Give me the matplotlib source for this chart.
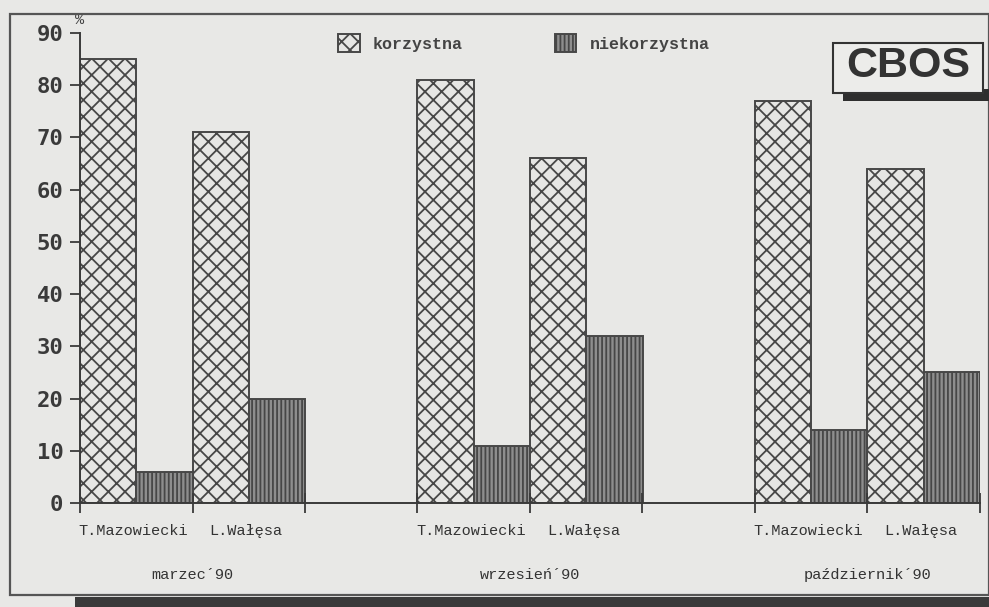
import matplotlib
matplotlib.use("Agg")
import matplotlib.pyplot as plt
from matplotlib.patches import Rectangle
import numpy as np

# ---- data ----
months = ["marzec\u00b490", "wrzesie\u0144\u00b490", "pa\u017adziernik\u00b490"]
politicians = ["T.Mazowiecki", "L.Wa\u0142\u0119sa"]
series = ["korzystna", "niekorzystna"]
korzystna = [85, 71, 81, 66, 77, 64]      # Mazowiecki, Wałęsa per month
niekorzystna = [6, 20, 11, 32, 14, 25]
yticks = [0, 10, 20, 30, 40, 50, 60, 70, 80, 90]

BG = "#e8e8e6"
EDGE = "#474747"
plt.rcParams["hatch.linewidth"] = 1.3
plt.rcParams["hatch.color"] = EDGE

fig = plt.figure(figsize=(9.89, 6.07), dpi=100, facecolor=BG)

# outer frame and dark band below
fig.patches.append(Rectangle((10 / 989, 1 - 595 / 607), (989 - 10) / 989, (595 - 14) / 607,
                             transform=fig.transFigure, facecolor="none",
                             edgecolor="#555555", lw=1.6, zorder=0))
fig.patches.append(Rectangle((75 / 989, 0), 1 - 75 / 989, 10 / 607,
                             transform=fig.transFigure, facecolor="#3a3a3a",
                             edgecolor="none", zorder=0))

ax = fig.add_axes([80 / 989, 1 - 503 / 607, 900 / 989, (503 - 33) / 607])
ax.set_facecolor("none")

slots = []
for m in range(len(months)):
    for p in range(len(politicians)):
        slots.append(m * 3 + p)
slots = np.array(slots, dtype=float)

b1 = ax.bar(slots + 0.25, korzystna, width=0.5, facecolor="#e6e6e4", edgecolor=EDGE,
            hatch="xx", lw=1.4, label=series[0])
b2 = ax.bar(slots + 0.75, niekorzystna, width=0.5, facecolor="#8e8e8e", edgecolor=EDGE,
            hatch="||||", lw=1.4, label=series[1])

ax.set_xlim(0, 8)
ax.set_ylim(0, 90)
for s in ["top", "right"]:
    ax.spines[s].set_visible(False)
for s in ["left", "bottom"]:
    ax.spines[s].set_color("#3a3a3a")
    ax.spines[s].set_linewidth(1.4)

ax.set_yticks(yticks)
ax.set_yticklabels([str(v) for v in yticks], fontfamily="DejaVu Sans Mono",
                   fontweight="bold", fontsize=16, color="#3a3a3a")
ax.tick_params(axis="y", direction="out", length=7, width=1.3, color="#3a3a3a", pad=5)
ax.set_xticks(np.arange(0, 9))
ax.set_xticklabels([])
ax.tick_params(axis="x", direction="inout", length=14, width=1.3, color="#3a3a3a")

# "%" above axis
ax.text(0, 91.2, "%", fontsize=11, fontfamily="Liberation Mono", color="#444444",
        ha="center", va="bottom")

# politician labels
for i, s in enumerate(slots):
    ax.annotate(politicians[i % 2], xy=(s + 0.5, 0), xytext=(-2, -20),
                textcoords="offset points", ha="center", va="center",
                fontsize=11, fontfamily="Liberation Mono", color="#333333")
# month labels
for m, name in enumerate(months):
    ax.annotate(name, xy=(m * 3 + 1, 0), xytext=(0, -52),
                textcoords="offset points", ha="center", va="center",
                fontsize=11, fontfamily="Liberation Mono", color="#333333")

# legend
leg = ax.legend(handles=[b1, b2], ncol=2, loc="center left",
                bbox_to_anchor=(0.27, 0.978), frameon=False,
                prop={"family": "Liberation Mono", "size": 12, "weight": "bold"},
                handlelength=1.3, handleheight=1.3, columnspacing=5.5,
                handletextpad=0.8)
for t in leg.get_texts():
    t.set_color("#444444")

# CBOS logo box with shadow
fig.patches.append(Rectangle((843 / 989, 1 - 101 / 607), 146 / 989, 12 / 607,
                             transform=fig.transFigure, facecolor="#2e2e2e",
                             edgecolor="none", zorder=3))
fig.patches.append(Rectangle((833 / 989, 1 - 93 / 607), 150 / 989, 50 / 607,
                             transform=fig.transFigure, facecolor="#ececea",
                             edgecolor="#333333", lw=1.5, zorder=4))
fig.text(908 / 989, 1 - 66 / 607, "CBOS", fontsize=31, fontweight="bold",
         fontfamily="Liberation Sans", color="#333333", ha="center", va="center",
         zorder=5)

fig.savefig("out.png", dpi=100, facecolor=BG)
